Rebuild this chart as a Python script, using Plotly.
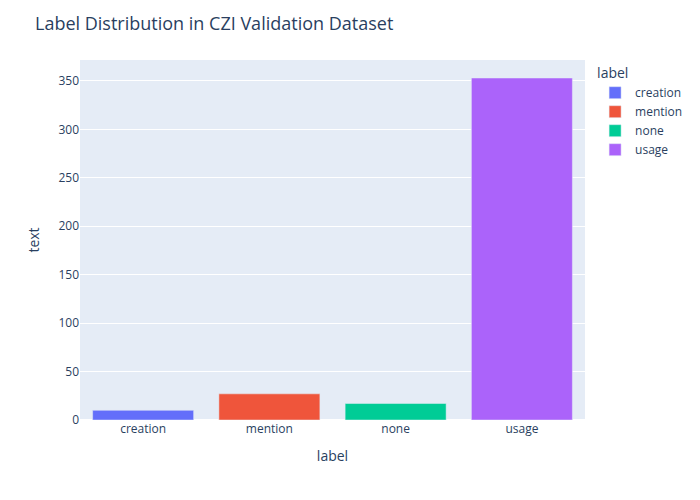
import plotly.express as px
import pandas as pd

labels = ["creation", "mention", "none", "usage"]
counts = [10, 27, 17, 353]

df = pd.DataFrame({"label": labels, "text": counts})
fig = px.bar(df, x="label", y="text", color="label",
             title="Label Distribution in CZI Validation Dataset")
fig.update_layout(width=700, height=500,
                  margin=dict(t=60, b=80, l=80, r=80),
                  title=dict(x=0.05, font=dict(size=18)))
fig.write_html("out.html", config={"displayModeBar": False},
               post_script="document.body.style.margin='0';")
